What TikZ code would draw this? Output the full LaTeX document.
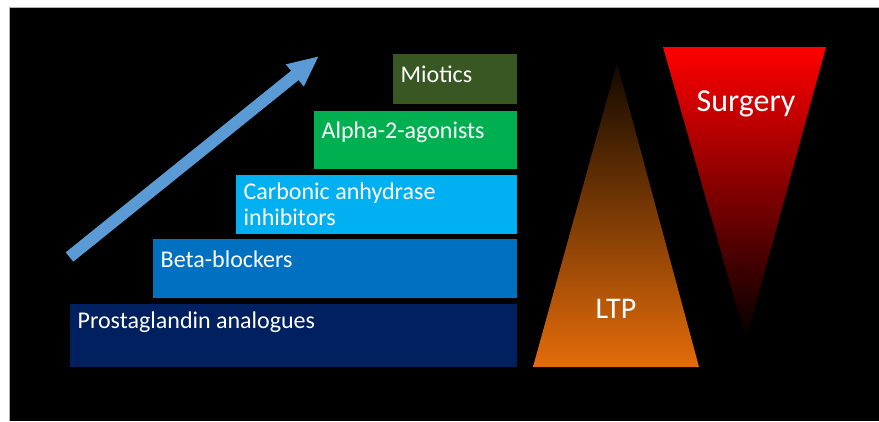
\documentclass[tikz,border=0pt]{standalone}
\usepackage{fontspec}
\setmainfont{Carlito}
\usetikzlibrary{arrows.meta}

\definecolor{tiernavy}{HTML}{002060}
\definecolor{tierblue}{HTML}{0070C0}
\definecolor{tiercyan}{HTML}{00B0F0}
\definecolor{tiergreen}{HTML}{00B050}
\definecolor{tierolive}{HTML}{385723}
\definecolor{arrowblue}{HTML}{5B9BD5}
\definecolor{ltporange}{HTML}{E46C0A}
\definecolor{ltpdark}{HTML}{120800}

\begin{document}
\begin{tikzpicture}[x=1pt,y=-1pt,
    tier/.style={fill=#1, draw=none, anchor=north west, inner sep=0pt},
    tiertext/.style={anchor=north west, inner sep=0pt, text=white, align=left,
      font=\fontsize{24}{26.4}\selectfont, xshift=7.5pt, yshift=-#1},
    bigtext/.style={text=white, inner sep=0pt, font=\fontsize{#1}{#1}\selectfont},
    trend/.style={draw=arrowblue, line width=12pt,
      -{Triangle[width=26pt,length=31pt]}}]

  \useasboundingbox (0,0) rectangle (879,421);
  \fill[white] (0,0) rectangle (879,421);
  \fill[black] (9,7) rectangle (879,421);
  \draw[gray!60, line width=0.8pt] (9,421) -- (9,7) -- (879,7);

  % the treatment steps
  \node[tier=tiernavy, minimum width=447pt, minimum height=63pt,
    label={[tiertext=7.5pt]north west:Prostaglandin analogues}] (pga) at (70,304) {};
  \node[tier=tierblue, minimum width=364pt, minimum height=59pt,
    label={[tiertext=11.5pt]north west:Beta-blockers}] (beta) at (153,239) {};
  \node[tier=tiercyan, minimum width=281pt, minimum height=59pt,
    label={[tiertext=7.5pt]north west:Carbonic anhydrase\\inhibitors}] (cai) at (236,175) {};
  \node[tier=tiergreen, minimum width=203pt, minimum height=58pt,
    label={[tiertext=10.5pt]north west:Alpha-2-agonists}] (alpha) at (314,111) {};
  \node[tier=tierolive, minimum width=124pt, minimum height=50pt,
    label={[tiertext=12pt]north west:Miotics}] (miotics) at (393,54) {};

  \coordinate (tail) at (69.5,257);
  \coordinate (tip) at (319,56);
  \draw[trend] (tail) -- (tip);

  % LTP and surgery
  \coordinate (ltp-l) at (533,367);
  \coordinate (ltp-r) at (699,367);
  \coordinate (ltp-t) at (617,63);
  \shade[top color=ltpdark, bottom color=ltporange] (ltp-l) -- (ltp-t) -- (ltp-r) -- cycle;
  \node[bigtext=30] (ltp) at (616,309) {LTP};

  \coordinate (surg-l) at (663,47);
  \coordinate (surg-r) at (826,47);
  \coordinate (surg-b) at (746,340);
  \shade[top color=red, bottom color=black] (surg-l) -- (surg-r) -- (surg-b) -- cycle;
  \node[bigtext=32] (surgery) at (746,104) {Surgery};

\end{tikzpicture}
\end{document}
